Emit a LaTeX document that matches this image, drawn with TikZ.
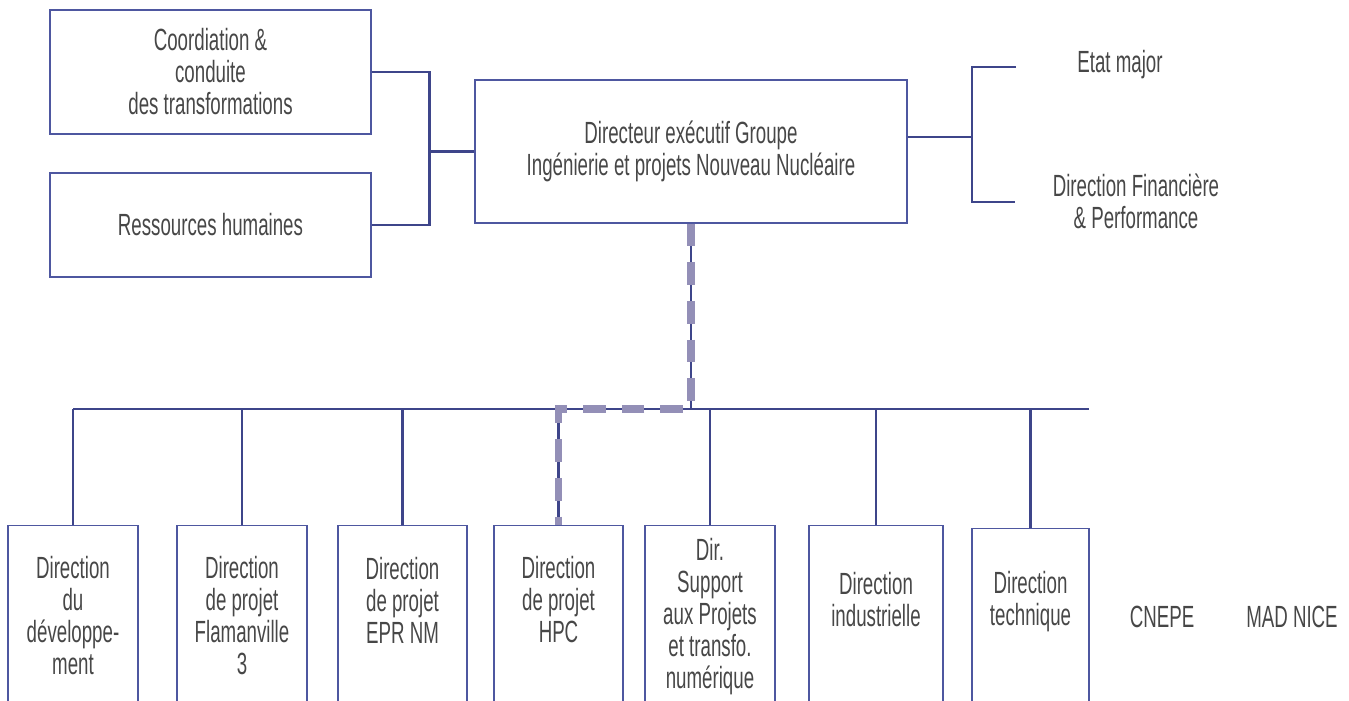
\documentclass[tikz,border=0pt]{standalone}
\usepackage{fontspec}
\setmainfont{Liberation Sans}[FakeStretch=0.61]
\definecolor{navy}{HTML}{3E458A}
\definecolor{boxline}{HTML}{4E57A0}
\definecolor{dashgrey}{HTML}{938FB7}
\definecolor{txtgrey}{HTML}{474747}

\begin{document}
\begin{tikzpicture}[x=.75pt,y=-.75pt,
  unit/.style={draw=boxline,rectangle,line width=1.1pt,inner sep=0pt},
  dirbox/.style={unit,anchor=north,minimum width=97.5pt,minimum height=150pt},
  txt/.style={align=center,text=txtgrey,font=\fontsize{23pt}{24pt}\selectfont},
  link/.style={draw=navy,line width=2.2pt},
  hpclink/.style={draw=dashgrey,line width=5.4pt,dash pattern=on 17pt off 12pt}]
\useasboundingbox (0,0) rectangle (1349,700);
\clip (0,0) rectangle (1349,700);
% top level
\node[unit,txt,minimum width=240.75pt,minimum height=93pt] (coord) at (210.5,72) {Coordiation \&\\conduite\\des transformations};
\node[unit,txt,minimum width=240.75pt,minimum height=78pt] (rh) at (210.5,225) {Ressources humaines};
\node[unit,txt,minimum width=324pt,minimum height=107.25pt] (dir) at (691,151.5) {Directeur exécutif Groupe\\Ingénierie et projets Nouveau Nucléaire};
\node[txt] (em) at (1120,65) {Etat major};
\node[txt] (df) at (1136,201) {Direction Financière\\\& Performance};
\coordinate (emtip) at (1016,67);
\coordinate (dftip) at (1015,202);
\coordinate (rbr) at (972,137);
\draw[link] (coord.east) -- ++(58,0) |- (rh.east);
\draw[link] (dir.west) -- ++(-43,0);
\draw[link] (dir.east |- rbr) -- (rbr);
\draw[link] (emtip) -| (rbr) |- (dftip);
% directions
\node[dirbox] (dev) at (73,525) {};
\node[dirbox] (fla) at (242,525) {};
\node[dirbox,minimum width=96.75pt] (epr) at (402.5,525) {};
\node[dirbox,minimum width=96.75pt] (hpc) at (558.5,525) {};
\node[dirbox] (sup) at (710,525) {};
\node[dirbox,minimum width=100.5pt] (ind) at (876,525) {};
\node[dirbox,minimum width=87.75pt] (tec) at (1030.5,528) {};
\node[txt] at (73,615.5) {Direction\\du\\développe-\\ment};
\node[txt] at (242,615.5) {Direction\\de projet\\Flamanville\\3};
\node[txt] at (402.5,600) {Direction\\de projet\\EPR NM};
\node[txt] at (558.5,600) {Direction\\de projet\\HPC};
\node[txt] at (710,617) {Dir.\\Support\\aux Projets\\et transfo.\\numérique};
\node[txt] at (876,600) {Direction\\industrielle};
\node[txt] at (1030.5,602) {Direction\\technique};
\node[txt] (cnepe) at (1162,617) {CNEPE};
\node[txt] (mad) at (1292,617) {MAD NICE};
% bus
\coordinate (busL) at (73,409);
\coordinate (busR) at (1089,409);
\draw[link] (busL) -- (busR);
\draw[link] (dir.south) -- (dir.south |- busL);
\draw[link] (dev.north) -- (dev.north |- busL);
\draw[link] (fla.north) -- (fla.north |- busL);
\draw[link] (epr.north) -- (epr.north |- busL);
\draw[link] (hpc.north) -- (hpc.north |- busL);
\draw[link] (sup.north) -- (sup.north |- busL);
\draw[link] (ind.north) -- (ind.north |- busL);
\draw[link] (tec.north) -- (tec.north |- busL);
\draw[hpclink] (dir.south) -- (dir.south |- busL) -| (hpc.north);
\end{tikzpicture}
\end{document}
